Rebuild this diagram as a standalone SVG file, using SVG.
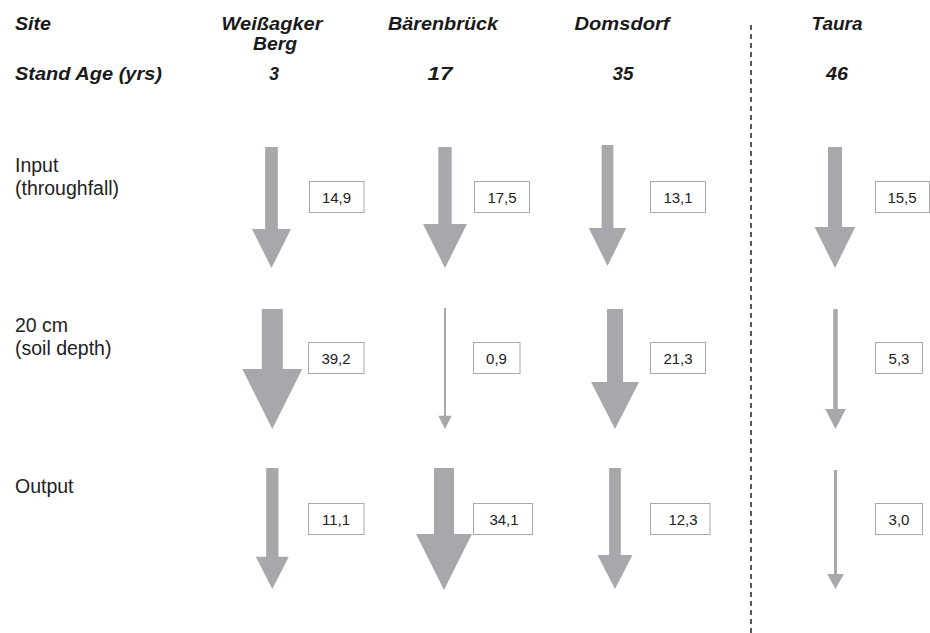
<svg xmlns="http://www.w3.org/2000/svg" width="930" height="633" viewBox="0 0 930 633">
<style>
.hdr{font-family:"Liberation Sans",Arial,sans-serif;font-weight:bold;font-style:italic;font-size:17.5px;fill:#1a1a1a}
.lbl{font-family:"Liberation Sans",Arial,sans-serif;font-size:19.5px;fill:#222}
.box{fill:#fff;stroke:#a8a8a8;stroke-width:1}
.val{font-family:"Liberation Sans",Arial,sans-serif;font-size:15px;fill:#222;text-anchor:middle}
.arr{fill:#a7a8ab}
.mid{text-anchor:middle}
</style>
<rect width="930" height="633" fill="#fff"/>
<g id="header">
<text class="hdr" x="15" y="30" textLength="36" lengthAdjust="spacingAndGlyphs">Site</text>
<text class="hdr" x="15" y="80" textLength="147" lengthAdjust="spacingAndGlyphs">Stand Age (yrs)</text>
<text class="hdr mid" x="272" y="30" textLength="101" lengthAdjust="spacingAndGlyphs">Weißagker</text>
<text class="hdr mid" x="275" y="49.5" textLength="44" lengthAdjust="spacingAndGlyphs">Berg</text>
<text class="hdr mid" x="274" y="80">3</text>
<text class="hdr mid" x="443" y="30" textLength="110" lengthAdjust="spacingAndGlyphs">Bärenbrück</text>
<text class="hdr mid" x="440" y="80" textLength="25" lengthAdjust="spacingAndGlyphs">17</text>
<text class="hdr mid" x="622" y="30" textLength="95" lengthAdjust="spacingAndGlyphs">Domsdorf</text>
<text class="hdr mid" x="623" y="80" textLength="21" lengthAdjust="spacingAndGlyphs">35</text>
<text class="hdr mid" x="837" y="30" textLength="51" lengthAdjust="spacingAndGlyphs">Taura</text>
<text class="hdr mid" x="837" y="80" textLength="22" lengthAdjust="spacingAndGlyphs">46</text>
</g>
<g id="row-labels">
<text class="lbl" x="15" y="172">Input</text>
<text class="lbl" x="15" y="195">(throughfall)</text>
<text class="lbl" x="15" y="332">20 cm</text>
<text class="lbl" x="15" y="355">(soil depth)</text>
<text class="lbl" x="15" y="493">Output</text>
</g>
<line id="divider" x1="751" y1="25" x2="751" y2="633" stroke="#222" stroke-width="1.5" stroke-dasharray="5,4"/>
<g id="connectors">
<polygon class="arr" points="265.15,147 277.85,147 277.85,229 291,229 271.5,268 252,229 265.15,229"/>
<polygon class="arr" points="438.3,147 451.7,147 451.7,224 467,224 445,268 423,224 438.3,224"/>
<polygon class="arr" points="601.65,145 613.35,145 613.35,228 626.25,228 607.5,266 588.75,228 601.65,228"/>
<polygon class="arr" points="828,147 842,147 842,227 855.35,227 835,268 814.65,227 828,227"/>
<polygon class="arr" points="261.8,309 282.8,309 282.8,369 302.3,369 272.3,429 242.3,369 261.8,369"/>
<polygon class="arr" points="444,308 446,308 446,415.7 451.7,415.7 445,429 438.3,415.7 444,415.7"/>
<polygon class="arr" points="607,309 623,309 623,382 639,382 615,429 591,382 607,382"/>
<polygon class="arr" points="833.25,309 837.75,309 837.75,409 845.85,409 835.5,429 825.15,409 833.25,409"/>
<polygon class="arr" points="266.15,468 278.45,468 278.45,556.7 288.8,556.7 272.3,589 255.8,556.7 266.15,556.7"/>
<polygon class="arr" points="434,468 454,468 454,534 472,534 444,590 416,534 434,534"/>
<polygon class="arr" points="609.15,468 620.85,468 620.85,555 632.5,555 615,589 597.5,555 609.15,555"/>
<polygon class="arr" points="834,470 837,470 837,574 843.85,574 835.5,589 827.15,574 834,574"/>
</g>
<g id="v-wb-in"><rect class="box" x="309.5" y="181.5" width="54.5" height="31"/><text class="val" x="336.5" y="202.5">14,9</text></g>
<g id="v-bb-in"><rect class="box" x="474.5" y="181.5" width="55" height="31"/><text class="val" x="502" y="202.5">17,5</text></g>
<g id="v-ds-in"><rect class="box" x="650.5" y="181.5" width="55" height="31"/><text class="val" x="678" y="202.5">13,1</text></g>
<g id="v-ta-in"><rect class="box" x="875.5" y="181.5" width="54" height="31"/><text class="val" x="902" y="202.5">15,5</text></g>
<g id="v-wb-20"><rect class="box" x="308.5" y="342.5" width="55.5" height="31"/><text class="val" x="336" y="363.5">39,2</text></g>
<g id="v-bb-20"><rect class="box" x="473.5" y="342.5" width="46.5" height="31"/><text class="val" x="496.5" y="363.5">0,9</text></g>
<g id="v-ds-20"><rect class="box" x="650.5" y="342.5" width="55" height="31"/><text class="val" x="678" y="363.5">21,3</text></g>
<g id="v-ta-20"><rect class="box" x="875.5" y="342.5" width="47" height="31"/><text class="val" x="899" y="363.5">5,3</text></g>
<g id="v-wb-out"><rect class="box" x="308.5" y="503.5" width="55.5" height="31"/><text class="val" x="336" y="524.5">11,1</text></g>
<g id="v-bb-out"><rect class="box" x="473.5" y="503.5" width="59" height="31"/><text class="val" x="504" y="524.5">34,1</text></g>
<g id="v-ds-out"><rect class="box" x="650.5" y="503.5" width="59.5" height="31"/><text class="val" x="683" y="524.5">12,3</text></g>
<g id="v-ta-out"><rect class="box" x="875.5" y="503.5" width="47" height="31"/><text class="val" x="899" y="524.5">3,0</text></g>
</svg>
